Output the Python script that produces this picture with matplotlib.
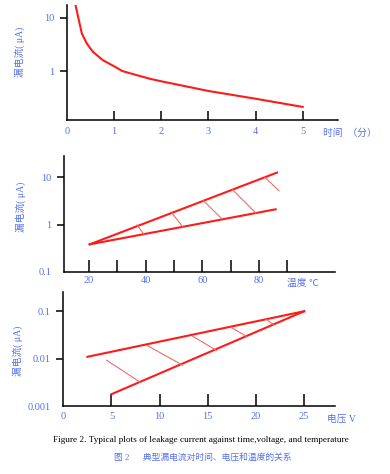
import matplotlib
matplotlib.use("Agg")
from matplotlib import pyplot as plt

plt.rcParams['font.family'] = ['Liberation Serif', 'Noto Sans CJK SC', 'DejaVu Sans']

blue = "#5670ec"
red = "#ff1a1a"
hatchRed = "#f26a6a"

# panel 1: leakage current vs time
timeXs = [0.18, 0.25, 0.315, 0.42, 0.55, 0.76, 1.02, 1.17, 1.47, 1.77, 2.0, 3.0, 4.0, 5.0]
timeYs = [17.6, 9.2, 5.1, 3.3, 2.3, 1.6, 1.2, 1.0, 0.84, 0.71, 0.64, 0.42, 0.30, 0.21]
timeTicks = [0, 1, 2, 3, 4, 5]

# panel 2: leakage current vs temperature
tempUpperX = [20.2, 86.4]
tempUpperY = [0.38, 12.6]
tempLowerX = [20.2, 85.9]
tempLowerY = [0.38, 2.1]
tempHatch = [(36.9, 0.98, 39.4, 0.62),
             (49.0, 1.85, 53.0, 0.90),
             (60.3, 3.25, 66.8, 1.34),
             (70.5, 5.6, 78.9, 1.76),
             (82.1, 10.0, 87.1, 5.2)]
tempTicks = [20, 30, 40, 50, 60, 70, 80, 90]
tempLabels = ['20', '', '40', '', '60', '', '80', '']

# panel 3: leakage current vs voltage
voltUpperX = [2.5, 25.0]
voltUpperY = [0.011, 0.1]
voltLowerX = [5.0, 25.0]
voltLowerY = [0.0018, 0.1]
voltHatch = [(4.5, 0.0093, 8.0, 0.0032),
             (8.7, 0.019, 12.4, 0.0073),
             (13.4, 0.030, 15.9, 0.015),
             (17.4, 0.046, 19.1, 0.029),
             (21.0, 0.069, 21.8, 0.053)]
voltTicks = [0, 5, 10, 15, 20, 25]

ylabelText = "漏电流( μA)"

fig = plt.figure(figsize=(3.9, 4.74), dpi=100)


def styleAxes(ax):
    ax.set_yscale('log')
    ax.spines['top'].set_visible(False)
    ax.spines['right'].set_visible(False)
    ax.spines['left'].set_linewidth(1.1)
    ax.spines['bottom'].set_linewidth(1.1)
    ax.tick_params(axis='x', direction='in', length=6.5, width=1.1,
                   colors='black', labelcolor=blue, labelsize=7.5, pad=5)
    ax.tick_params(axis='y', which='major', direction='out', length=5, width=1.1,
                   colors='black', labelcolor=blue, labelsize=7.5, pad=4)
    ax.tick_params(axis='y', which='minor', left=False)
    ax.yaxis.set_minor_formatter(matplotlib.ticker.NullFormatter())


#TIME PANEL

timeAx = fig.add_axes([0.1718, 0.7468, 0.695, 0.2427])
styleAxes(timeAx)
timeAx.plot(timeXs, timeYs, color=red, lw=1.5)
timeAx.set_xlim(0, 5.75)
timeAx.set_ylim(0.119, 17.6)
timeAx.set_xticks(timeTicks)
timeAx.set_xticklabels([str(t) for t in timeTicks])
timeAx.set_yticks([1, 10])
timeAx.set_yticklabels(['1', '10'])
timeAx.xaxis.get_major_ticks()[0].tick1line.set_visible(False)
timeAx.set_ylabel(ylabelText, color=blue, fontsize=7)
timeAx.yaxis.set_label_coords(-0.155, 0.59)
timeAx.text(0.945, -0.11, "时间  （分）", transform=timeAx.transAxes,
            color=blue, fontsize=7, ha='left', va='center')

#TEMPERATURE PANEL

tempAx = fig.add_axes([0.164, 0.4268, 0.695, 0.2442])
styleAxes(tempAx)
tempAx.plot(tempUpperX, tempUpperY, color=red, lw=1.5)
tempAx.plot(tempLowerX, tempLowerY, color=red, lw=1.5)
for x0, y0, x1, y1 in tempHatch:
    tempAx.plot([x0, x1], [y0, y1], color=hatchRed, lw=0.8)
tempAx.set_xlim(11.1, 106.9)
tempAx.set_ylim(0.1, 28.4)
tempAx.set_xticks(tempTicks)
tempAx.set_xticklabels(tempLabels)
tempAx.set_yticks([0.1, 1, 10])
tempAx.set_yticklabels(['0.1', '1', '10'])
tempAx.yaxis.get_major_ticks()[0].tick1line.set_visible(False)
tempAx.tick_params(axis='x', length=9, pad=3)
tempAx.set_ylabel(ylabelText, color=blue, fontsize=7)
tempAx.yaxis.set_label_coords(-0.14, 0.56)
tempAx.text(0.823, -0.098, "温度 ℃", transform=tempAx.transAxes,
            color=blue, fontsize=7, ha='left', va='center')

#VOLTAGE PANEL

voltAx = fig.add_axes([0.1623, 0.1428, 0.6967, 0.2405])
styleAxes(voltAx)
voltAx.plot(voltUpperX, voltUpperY, color=red, lw=1.5)
voltAx.plot(voltLowerX, voltLowerY, color=red, lw=1.5)
for x0, y0, x1, y1 in voltHatch:
    voltAx.plot([x0, x1], [y0, y1], color=hatchRed, lw=0.8)
voltAx.set_xlim(0, 28.2)
voltAx.set_ylim(0.001, 0.25)
voltAx.set_xticks(voltTicks)
voltAx.set_xticklabels([str(t) for t in voltTicks])
voltAx.set_yticks([0.001, 0.01, 0.1])
voltAx.set_yticklabels(['0.001', '0.01', '0.1'])
voltAx.xaxis.get_major_ticks()[0].tick1line.set_visible(False)
voltAx.yaxis.get_major_ticks()[0].tick1line.set_visible(False)
voltAx.tick_params(axis='x', length=9, pad=4)
voltAx.set_ylabel(ylabelText, color=blue, fontsize=7)
voltAx.yaxis.set_label_coords(-0.148, 0.485)
voltAx.text(0.97, -0.11, "电压 V", transform=voltAx.transAxes,
            color=blue, fontsize=7, ha='left', va='center')

#CAPTIONS

fig.text(0.515, 1 - 440 / 474, "Figure 2. Typical plots of leakage current against time,voltage, and temperature",
         ha='center', va='center', fontsize=6.7, color='black')
fig.text(0.52, 1 - 458 / 474, "图 2      典型漏电流对时间、电压和温度的关系",
         ha='center', va='center', fontsize=6.3, color=blue)

fig.savefig("out.png", dpi=100)
